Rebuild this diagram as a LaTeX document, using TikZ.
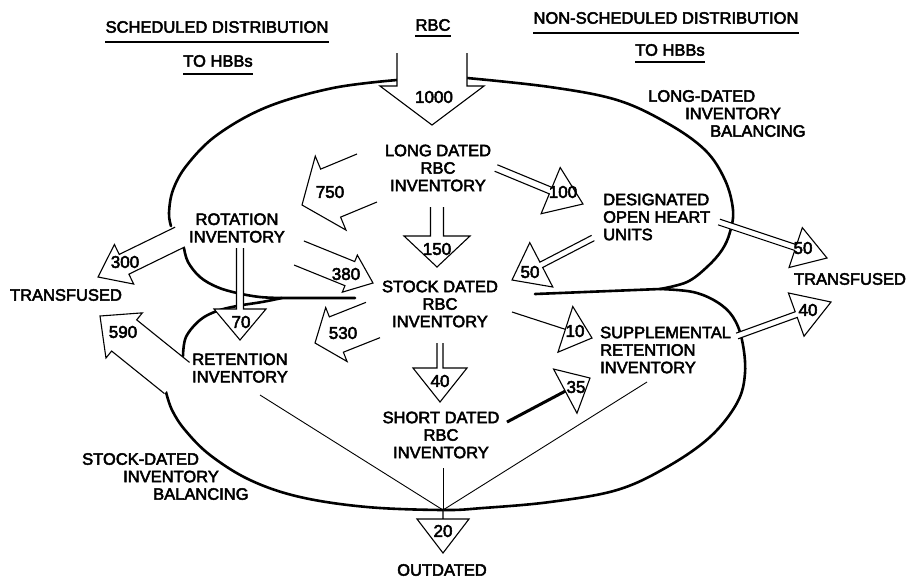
\documentclass[tikz,border=0pt]{standalone}
\usepackage{fontspec}
\setmainfont{Liberation Sans}[FakeBold=3]
\usetikzlibrary{calc}

% block arrow: [style] tail, tip, shaft half width, head half width, head length
\newcommand{\flowarrow}[6][]{%
  \coordinate (hb) at ($(#3)!#6!(#2)$);
  \filldraw[flow,#1] ($(#2)!#4!90:(#3)$) -- ($(hb)!#4!90:(#3)$) -- ($(hb)!#5!90:(#3)$) -- (#3)
    -- ($(hb)!#5!-90:(#3)$) -- ($(hb)!#4!-90:(#3)$) -- ($(#2)!#4!-90:(#3)$);
}

\begin{document}
\begin{tikzpicture}[
    x=1pt, y=-1pt,
    loopline/.style={line width=2.6pt, line cap=round, line join=round},
    flow/.style={line width=1.1pt, fill=white, line join=miter},
    feed/.style={line width=0.9pt},
    uline/.style={line width=1.2pt},
    lbl/.style={font=\fontsize{16.5}{17.5}\selectfont, align=center, inner sep=0pt},
    num/.style={font=\fontsize{17}{17}\selectfont, inner sep=0pt}
]
    \useasboundingbox (0,0) rectangle (909,582);

    % Headings
    \node[lbl] (tsched) at (217,27) {SCHEDULED DISTRIBUTION};
    \node[lbl] (tsched2) at (218,61) {TO HBBs};
    \node[lbl] (trbc) at (433,25) {RBC};
    \node[lbl] (tnons) at (666,18) {NON-SCHEDULED DISTRIBUTION};
    \node[lbl] (tnons2) at (670,50) {TO HBBs};
    \draw[uline] ([yshift=-9pt]tsched.south west) -- ([yshift=-9pt]tsched.south east);
    \draw[uline] ([yshift=-7pt]tsched2.south west) -- ([yshift=-7pt]tsched2.south east);
    \draw[uline] ([yshift=-5pt]trbc.south west) -- ([yshift=-5pt]trbc.south east);
    \draw[uline] ([yshift=-9pt]tnons.south west) -- ([yshift=-9pt]tnons.south east);
    \draw[uline] ([yshift=-6pt]tnons2.south west) -- ([yshift=-6pt]tnons2.south east);

    % Balancing loops
    \draw[loopline] plot[smooth, tension=0.6] coordinates {(397,80) (333,88) (267,107) (217,135) (187,165) (173,190) (169,213) (171,226)};
    \draw[loopline] plot[smooth, tension=0.6] coordinates {(184,248) (188,262) (200,277) (217,287) (237,293) (260,297) (282,298)} -- (355,298);
    \draw[loopline] plot[smooth, tension=0.6] coordinates {(183,356) (186,337) (200,320) (217,311) (237,306) (262,302) (282,298)};
    \draw[loopline] plot[smooth, tension=0.6] coordinates {(467,78) (550,87) (617,100) (667,123) (705,150) (725,180) (733,210) (730,232) (722,250) (707,267) (687,282) (660,289)} -- (535,294);
    \draw[loopline] plot[smooth, tension=0.6] coordinates {(660,289) (693,292) (717,302) (733,317) (742,340) (745,373) (737,403) (710,437) (667,467) (617,490) (550,502) (483,508) (443,510) (367,507) (300,497) (250,480) (210,455) (185,430) (172,410) (166,392)};

    % Flow end points
    \coordinate (s1000) at (432,53);  \coordinate (e1000) at (432,125);
    \coordinate (s750) at (367,178);  \coordinate (e750) at (302,205);
    \coordinate (s300) at (180,237);  \coordinate (e300) at (98,277);
    \coordinate (s380) at (299,253);  \coordinate (e380) at (373,283);
    \coordinate (s530) at (373,320);  \coordinate (e530) at (315,343);
    \coordinate (s590) at (177,378);  \coordinate (e590) at (100,316);
    \coordinate (s150) at (437,207);  \coordinate (e150) at (437,267);
    \coordinate (s70) at (240,248);   \coordinate (e70) at (240,340);
    \coordinate (s40) at (440,343);   \coordinate (e40) at (440,402);
    \coordinate (s100) at (496,168);  \coordinate (e100) at (583,204);
    \coordinate (s50a) at (593,238);  \coordinate (e50a) at (512,280);
    \coordinate (s50b) at (719,222);  \coordinate (e50b) at (827,258);
    \coordinate (s40b) at (737,336);  \coordinate (e40b) at (831,302);
    \coordinate (s10) at (512,312);   \coordinate (e10) at (592,338);
    \coordinate (s35) at (507,422);   \coordinate (e35) at (590,378);
    \coordinate (junc) at (443,510);  \coordinate (e20) at (443,553);
    \coordinate (fret) at (260,395);  \coordinate (fshort) at (443,468);
    \coordinate (fsup) at (647,382);

    % Outdating lines
    \draw[feed] (fret) -- (junc);
    \draw[feed] (fshort) -- (junc);
    \draw[feed] (fsup) -- (junc);
    \draw[line width=3pt] (s35) -- ($(s35)!0.9!(e35)$);

    % Flow arrows
    \flowarrow{s1000}{e1000}{35pt}{52pt}{39pt}
    \flowarrow{s750}{e750}{26pt}{40pt}{31pt}
    \flowarrow{s300}{e300}{11pt}{22pt}{29pt}
    \flowarrow{s380}{e380}{13pt}{20pt}{25pt}
    \flowarrow{s530}{e530}{19pt}{29pt}{23pt}
    \flowarrow{s590}{e590}{20pt}{29pt}{31pt}
    \flowarrow{s150}{e150}{6.5pt}{33pt}{31pt}
    \flowarrow{s70}{e70}{3.5pt}{26pt}{31pt}
    \flowarrow{s40}{e40}{3pt}{27pt}{34pt}
    \flowarrow{s100}{e100}{3.5pt}{25pt}{35pt}
    \flowarrow{s50a}{e50a}{3pt}{25pt}{33pt}
    \flowarrow{s50b}{e50b}{3pt}{21pt}{33pt}
    \flowarrow{s40b}{e40b}{3pt}{23pt}{37pt}
    \flowarrow{s10}{e10}{0pt}{24pt}{28pt}
    \flowarrow{s35}{e35}{0pt}{25pt}{28pt}
    \flowarrow{junc}{e20}{0pt}{26pt}{34pt}

    % Quantities
    \node[num] (n1000) at (434,97) {1000};
    \node[num] (n750) at (330,192) {750};
    \node[num] (n300) at (125,262) {300};
    \node[num] (n380) at (346,274) {380};
    \node[num] (n530) at (343,333) {530};
    \node[num] (n590) at (123,332) {590};
    \node[num] (n150) at (437,249) {150};
    \node[num] (n70) at (241,322) {70};
    \node[num] (n40) at (440,381) {40};
    \node[num] (n100) at (563,192) {100};
    \node[num] (n50a) at (530,272) {50};
    \node[num] (n50b) at (803,248) {50};
    \node[num] (n40b) at (808,310) {40};
    \node[num] (n10) at (575,331) {10};
    \node[num] (n35) at (576,387) {35};
    \node[num] (n20) at (443,531) {20};

    % Inventories
    \node[lbl] (ldi) at (438,168) {LONG DATED\\RBC\\INVENTORY};
    \node[lbl] (sdi) at (440,304) {STOCK DATED\\RBC\\INVENTORY};
    \node[lbl] (shdi) at (441,435) {SHORT DATED\\RBC\\INVENTORY};
    \node[lbl] (roti) at (237,228) {ROTATION\\INVENTORY};
    \node[lbl] (reti) at (240,368) {RETENTION\\INVENTORY};
    \node[lbl, align=left, anchor=west] (dohu) at (603,217) {DESIGNATED\\OPEN HEART\\UNITS};
    \node[lbl, align=left, anchor=west] (supi) at (600,350) {SUPPLEMENTAL\\RETENTION\\INVENTORY};
    \node[lbl, align=left, anchor=north west] (ldbal) at (648,90) {LONG-DATED\\\hspace*{37pt}INVENTORY\\\hspace*{62pt}BALANCING};
    \node[lbl, align=left, anchor=north west] (sdbal) at (82,453) {STOCK-DATED\\\hspace*{41pt}INVENTORY\\\hspace*{71pt}BALANCING};
    \node[lbl] (trl) at (66,295) {TRANSFUSED};
    \node[lbl] (trr) at (850,279) {TRANSFUSED};
    \node[lbl] (outd) at (442,570) {OUTDATED};
\end{tikzpicture}
\end{document}
